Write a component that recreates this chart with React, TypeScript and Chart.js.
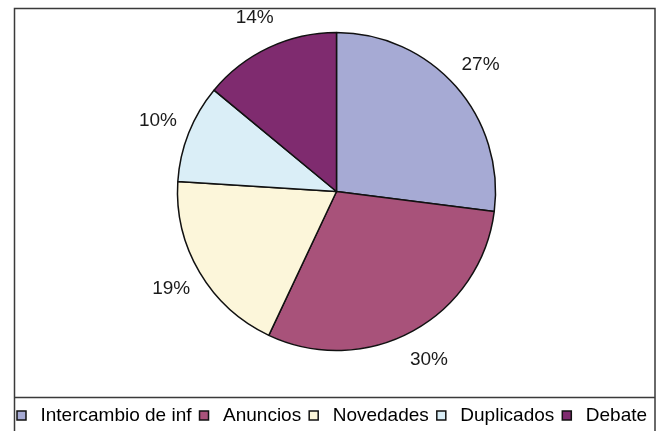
import React, { useEffect, useRef } from "react";
import { Chart, registerables } from "chart.js";

Chart.register(...registerables);

const categories = ["Intercambio de inf", "Anuncios", "Novedades", "Duplicados", "Debate"];
const shares = [27, 30, 19, 10, 14];
const sliceColors = ["#A6AAD4", "#A8527A", "#FCF6DA", "#DAEEF7", "#7F2B6F"];

const FONT = "'Liberation Sans', Arial, Helvetica, sans-serif";
const SHIFT_Y = 20; // canvas is drawn 20px above the page top

const framePlugin = {
  id: "frame",
  beforeDraw(chart: any) {
    const ctx = chart.ctx;
    ctx.save();
    ctx.fillStyle = "#ffffff";
    ctx.fillRect(0, 0, chart.width, chart.height);
    ctx.strokeStyle = "#3a3a3a";
    ctx.lineWidth = 1.5;
    ctx.beginPath();
    ctx.moveTo(14.5, chart.height + 5);
    ctx.lineTo(14.5, 8.5 + SHIFT_Y);
    ctx.lineTo(655, 8.5 + SHIFT_Y);
    ctx.lineTo(655, chart.height + 5);
    ctx.moveTo(14.5, 397.5 + SHIFT_Y);
    ctx.lineTo(655, 397.5 + SHIFT_Y);
    ctx.stroke();
    ctx.restore();
  },
};

const pctPlugin = {
  id: "pct",
  afterDatasetsDraw(chart: any) {
    const meta = chart.getDatasetMeta(0);
    const ctx = chart.ctx;
    ctx.save();
    ctx.font = `19px ${FONT}`;
    ctx.fillStyle = "#1a1a1a";
    ctx.textAlign = "center";
    ctx.textBaseline = "middle";
    meta.data.forEach((arc: any, i: number) => {
      const { x, y, startAngle, endAngle, outerRadius } = arc.getProps(
        ["x", "y", "startAngle", "endAngle", "outerRadius"],
        true
      );
      const mid = (startAngle + endAngle) / 2;
      const r = outerRadius + 33;
      ctx.fillText(`${shares[i]}%`, x + Math.cos(mid) * r, y + Math.sin(mid) * r);
    });
    ctx.restore();
  },
};

export default function App() {
  const ref = useRef<HTMLCanvasElement | null>(null);

  useEffect(() => {
    if (!ref.current) return;
    const chart = new Chart(ref.current, {
      type: "pie",
      data: {
        labels: categories,
        datasets: [
          {
            data: shares,
            backgroundColor: sliceColors,
            borderColor: "#111111",
            borderWidth: 1.5,
            radius: 159,
          } as any,
        ],
      },
      options: {
        responsive: false,
        animation: false,
        events: [],
        layout: { padding: { left: 9, right: 0, top: 0, bottom: 0 } },
        plugins: {
          tooltip: { enabled: false },
          legend: {
            position: "bottom",
            align: "start",
            labels: {
              font: { size: 19, family: FONT },
              color: "#000000",
              boxWidth: 19,
              boxHeight: 9,
              usePointStyle: true,
              pointStyle: "rect",
              padding: 3,
            },
          },
        },
      },
      plugins: [framePlugin, pctPlugin],
    });
    return () => chart.destroy();
  }, []);

  return (
    <div
      style={{
        position: "fixed",
        left: 0,
        top: 0,
        width: 659,
        height: 431,
        overflow: "hidden",
        background: "#fff",
      }}
    >
      <canvas
        ref={ref}
        width={664}
        height={455}
        style={{ display: "block", position: "absolute", left: 0, top: -SHIFT_Y }}
      />
    </div>
  );
}
